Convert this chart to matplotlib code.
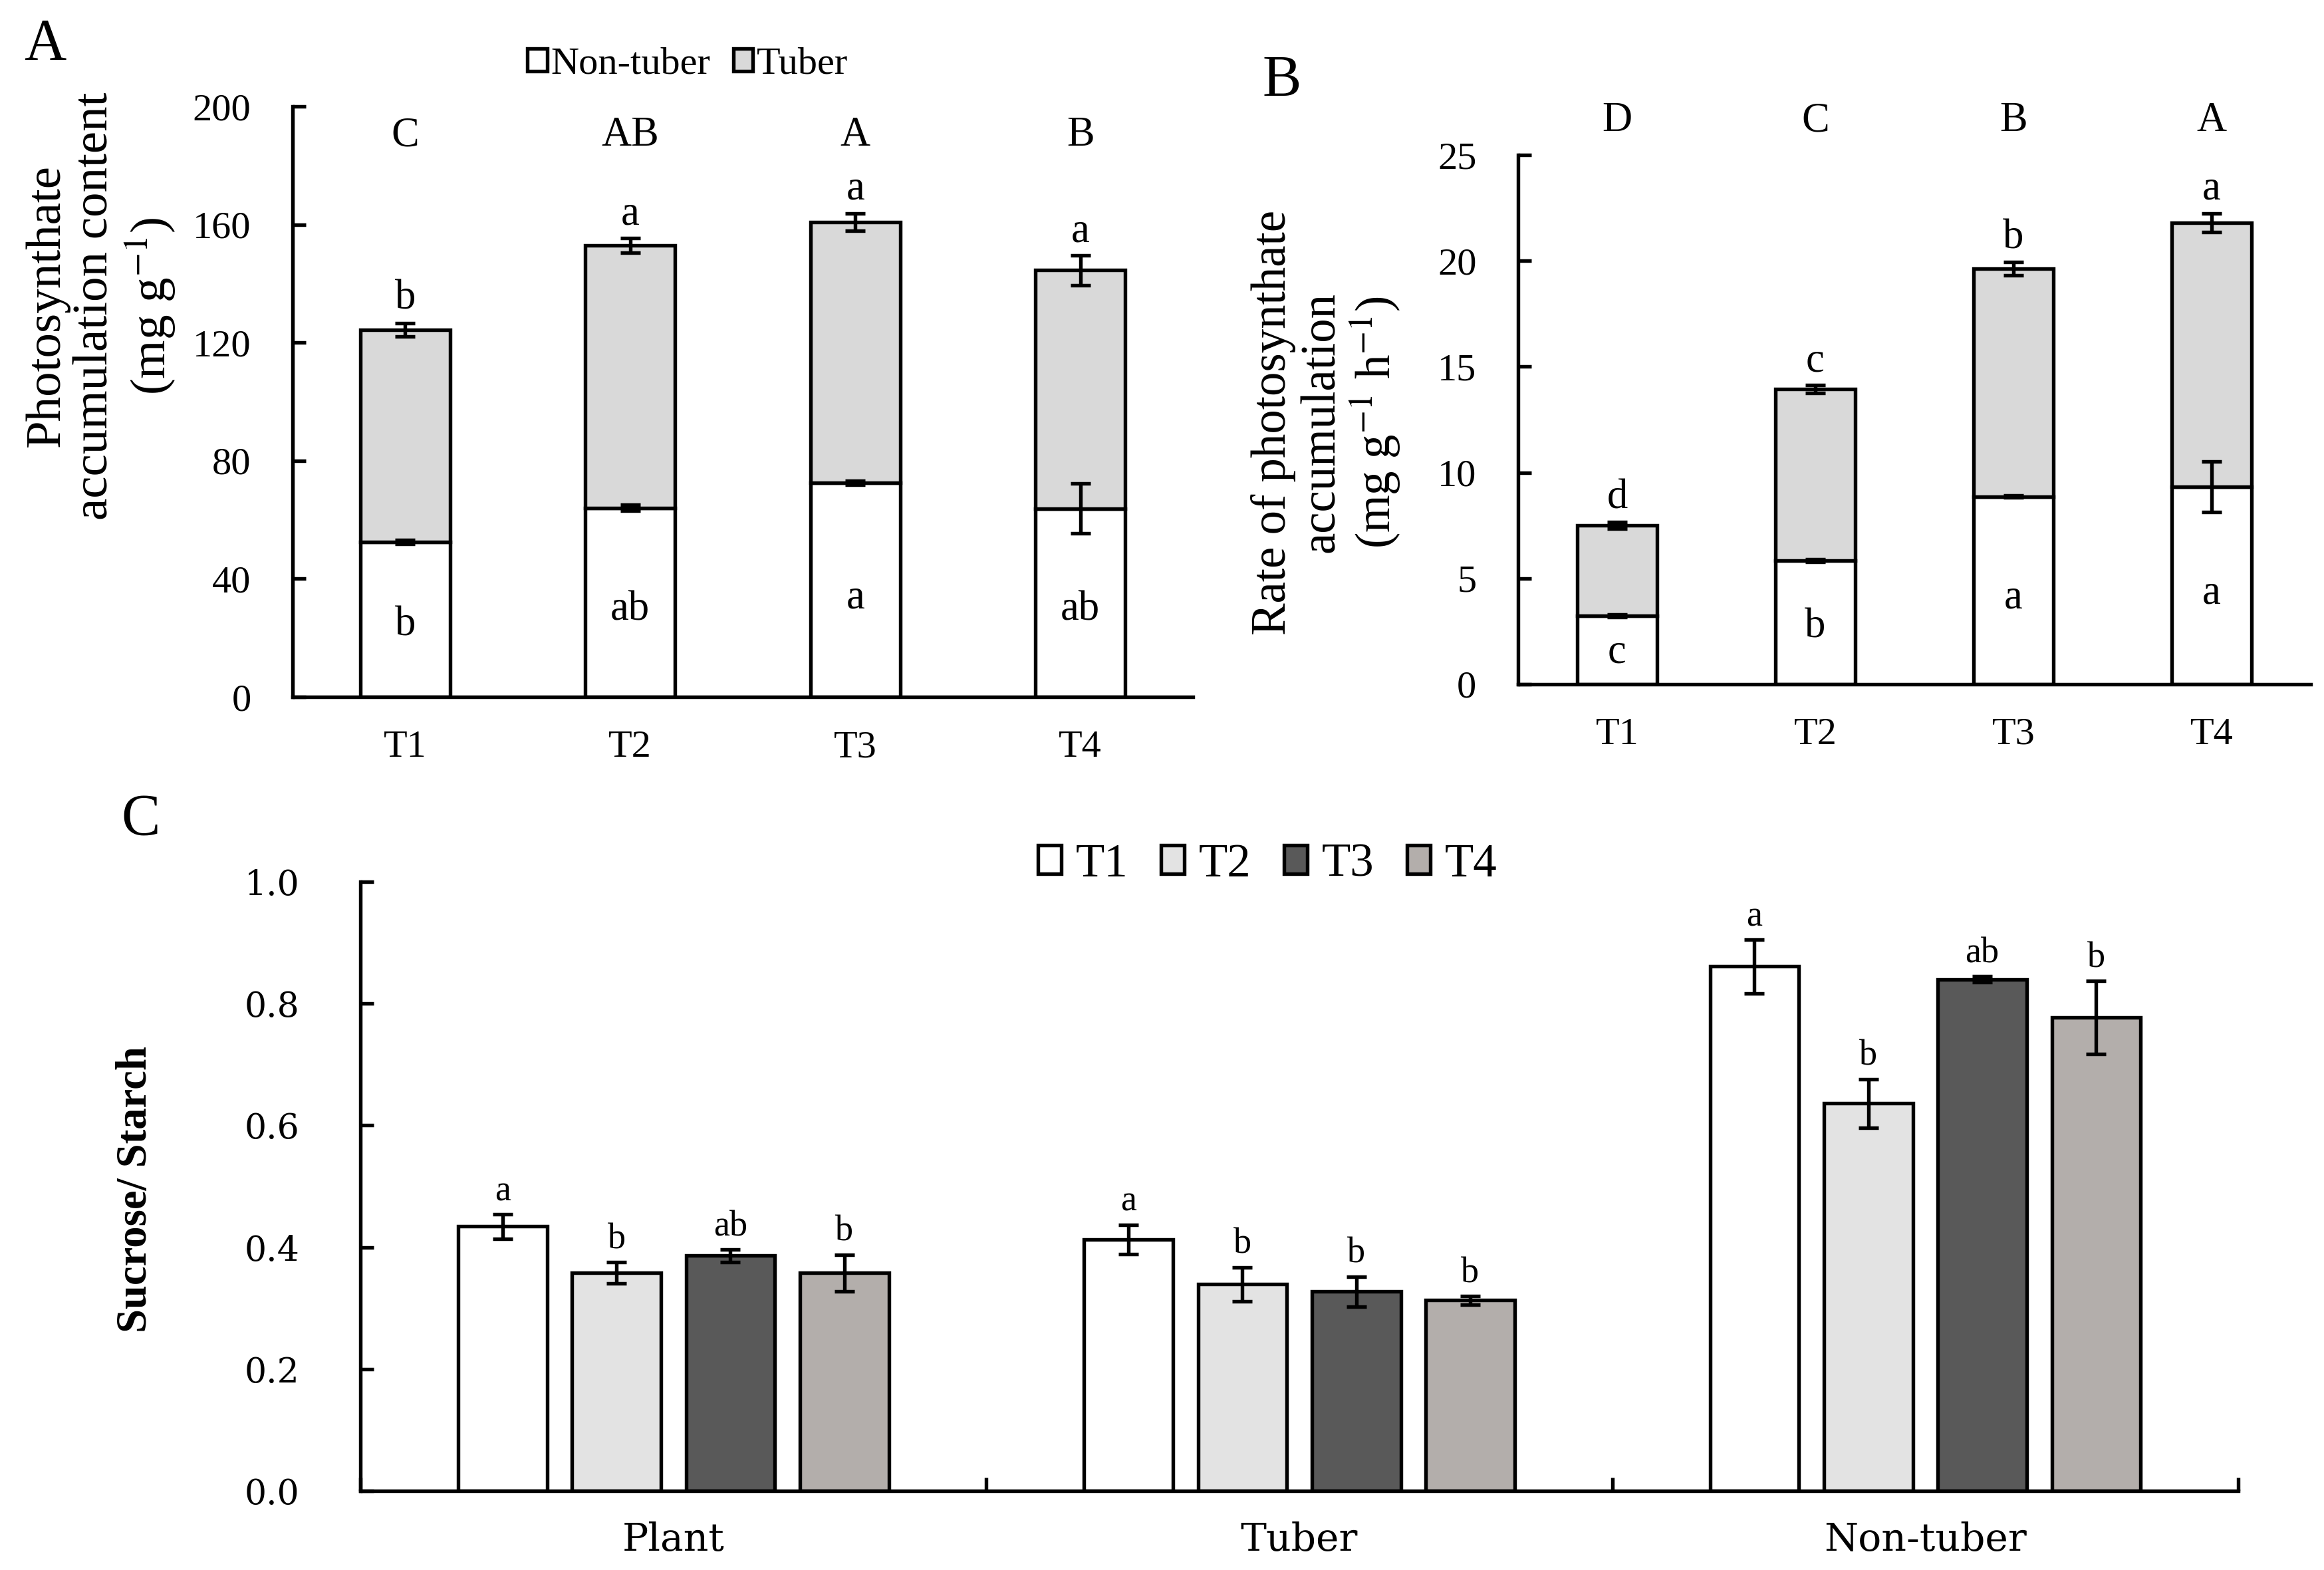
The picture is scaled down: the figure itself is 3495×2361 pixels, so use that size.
import numpy as np
import matplotlib.pyplot as plt
from matplotlib.patches import Patch

plt.rcParams['font.family'] = ['Liberation Serif', 'DejaVu Serif']
plt.rcParams['mathtext.fontset'] = 'stix'

treatments = ['T1', 'T2', 'T3', 'T4']

# A: photosynthate accumulation content (mg g-1)
a_nontuber = [52.5, 64.0, 72.5, 63.8]
a_nontuber_err = [0.6, 1.0, 0.6, 8.4]
a_total = [124.4, 152.9, 160.8, 144.5]
a_total_err = [2.3, 2.5, 3.0, 5.0]
a_top_letters = ['C', 'AB', 'A', 'B']
a_total_letters = ['b', 'a', 'a', 'a']
a_nontuber_letters = ['b', 'ab', 'a', 'ab']

# B: rate of photosynthate accumulation (mg g-1 h-1)
b_nontuber = [3.23, 5.83, 8.87, 9.33]
b_nontuber_err = [0.06, 0.06, 0.06, 1.2]
b_total = [7.51, 13.94, 19.63, 21.8]
b_total_err = [0.15, 0.18, 0.3, 0.45]
b_top_letters = ['D', 'C', 'B', 'A']
b_total_letters = ['d', 'c', 'b', 'a']
b_nontuber_letters = ['c', 'b', 'a', 'a']

# C: sucrose / starch
organs = ['Plant', 'Tuber', 'Non-tuber']
c_values = {
    'T1': [0.434, 0.413, 0.861],
    'T2': [0.358, 0.339, 0.636],
    'T3': [0.386, 0.327, 0.840],
    'T4': [0.358, 0.313, 0.777],
}
c_errors = {
    'T1': [0.020, 0.024, 0.044],
    'T2': [0.017, 0.028, 0.040],
    'T3': [0.010, 0.025, 0.005],
    'T4': [0.030, 0.007, 0.060],
}
c_letters = {
    'T1': ['a', 'a', 'a'],
    'T2': ['b', 'b', 'b'],
    'T3': ['ab', 'b', 'ab'],
    'T4': ['b', 'b', 'b'],
}
c_colors = ['white', '#e3e3e3', '#595959', '#b3aeab']

LW = 1.3
tuber_color = '#d9d9d9'
err_kw = dict(fmt='none', ecolor='black', elinewidth=LW, capsize=3.5, capthick=LW, zorder=4)

fig = plt.figure(figsize=(11.65, 7.87), dpi=300)


def style_axes(ax):
    for s in ['top', 'right']:
        ax.spines[s].set_visible(False)
    for s in ['left', 'bottom']:
        ax.spines[s].set_linewidth(LW)
    ax.tick_params(axis='y', direction='in', length=4.8, width=LW)
    ax.tick_params(axis='x', length=0)


def stacked_panel(ax, nontuber, nontuber_err, total, total_err,
                  top_letters, total_letters, nontuber_letters, ymax, ystep, top_y):
    x = np.arange(len(treatments))
    nontuber = np.array(nontuber)
    total = np.array(total)
    tuber = total - nontuber
    ax.bar(x, nontuber, 0.4, color='white', edgecolor='black', linewidth=LW, zorder=2)
    ax.bar(x, tuber, 0.4, bottom=nontuber, color=tuber_color, edgecolor='black',
           linewidth=LW, zorder=2)
    ax.errorbar(x, nontuber, yerr=nontuber_err, **err_kw)
    ax.errorbar(x, total, yerr=total_err, **err_kw)
    for i in range(len(x)):
        ax.annotate(total_letters[i], xy=(x[i], total[i] + total_err[i]),
                    xytext=(0, 5), textcoords='offset points',
                    ha='center', va='baseline', fontsize=15)
        ax.text(x[i], nontuber[i] * 0.46, nontuber_letters[i],
                ha='center', va='center', fontsize=15)
        ax.text(x[i], top_y, top_letters[i], ha='center', va='center',
                fontsize=15, transform=ax.get_xaxis_transform(), clip_on=False)
    ax.set_xlim(-0.5, len(x) - 0.5)
    ax.set_ylim(0, ymax)
    ax.set_yticks(np.arange(0, ymax + 1e-9, ystep))
    ax.set_xticks(x)
    ax.set_xticklabels(treatments)
    style_axes(ax)
    ax.tick_params(axis='y', labelsize=14, pad=15)
    ax.tick_params(axis='x', labelsize=14, pad=12)


# panel A
axA = fig.add_axes([0.1259, 0.5561, 0.3874, 0.3761])
stacked_panel(axA, a_nontuber, a_nontuber_err, a_total, a_total_err,
              a_top_letters, a_total_letters, a_nontuber_letters, 200, 40, 0.95)
fig.text(152 / 3495, 1 - 460 / 2361,
         'Photosynthate\naccumulation content\n(mg g$^{-1}$)',
         rotation=90, ha='center', va='center', multialignment='center',
         fontsize=18, linespacing=1.1)
fig.legend(handles=[Patch(facecolor='white', edgecolor='black', linewidth=LW, label='Non-tuber'),
                    Patch(facecolor=tuber_color, edgecolor='black', linewidth=LW, label='Tuber')],
           loc='center', bbox_to_anchor=(0.296, 0.959), ncol=2, frameon=False,
           fontsize=14, handlelength=0.5, handleheight=0.5, handletextpad=0.1,
           columnspacing=0.6)

# panel B
axB = fig.add_axes([0.6532, 0.5642, 0.3411, 0.3371])
stacked_panel(axB, b_nontuber, b_nontuber_err, b_total, b_total_err,
              b_top_letters, b_total_letters, b_nontuber_letters, 25, 5, 1.064)
fig.text(1995 / 3495, 1 - 635 / 2361,
         'Rate of photosynthate\naccumulation\n(mg g$^{-1}$ h$^{-1}$)',
         rotation=90, ha='center', va='center', multialignment='center',
         fontsize=17.5, linespacing=1.1)

# panel C
axC = fig.add_axes([0.1551, 0.0504, 0.808, 0.388])
xg = np.arange(len(organs))
bw = 0.142
step = 0.182
for k, t in enumerate(treatments):
    xs = xg + (k - 1.5) * step
    vals = np.array(c_values[t])
    errs = np.array(c_errors[t])
    axC.bar(xs, vals, bw, color=c_colors[k], edgecolor='black', linewidth=LW,
            zorder=2, label=t)
    axC.errorbar(xs, vals, yerr=errs, **err_kw)
    for i in range(len(xg)):
        axC.annotate(c_letters[t][i], xy=(xs[i], vals[i] + errs[i]),
                     xytext=(0, 5), textcoords='offset points',
                     ha='center', va='baseline', fontsize=13)
axC.set_xlim(-0.5, len(organs) - 0.5)
axC.set_ylim(0, 1.0)
axC.set_yticks(np.arange(0, 1.01, 0.2))
axC.set_yticklabels(['%.1f' % v for v in np.arange(0, 1.01, 0.2)], family='DejaVu Serif')
axC.set_xticks(xg)
axC.set_xticklabels(organs, family='DejaVu Serif')
axC.set_xticks(np.arange(-0.5, len(organs), 1.0), minor=True)
style_axes(axC)
axC.tick_params(axis='y', labelsize=12.5, pad=22)
axC.tick_params(axis='x', which='major', labelsize=14, pad=11)
axC.tick_params(axis='x', which='minor', direction='in', length=4.8, width=LW)
fig.text(204 / 3495, 1 - 1789 / 2361, 'Sucrose/ Starch', rotation=90,
         ha='center', va='center', fontsize=15.5, fontweight='bold')
axC.legend(loc='center', bbox_to_anchor=(1906 / 3495, 1 - 1300 / 2361),
           bbox_transform=fig.transFigure, ncol=4, frameon=False, fontsize=17,
           handlelength=0.5, handleheight=0.55, handletextpad=0.3, columnspacing=0.7)

# panel letters
fig.text(68 / 3495, 1 - 67 / 2361, 'A', fontsize=21, ha='center', va='center')
fig.text(1928 / 3495, 1 - 123 / 2361, 'B', fontsize=21, ha='center', va='center')
fig.text(212 / 3495, 1 - 1233 / 2361, 'C', fontsize=21, ha='center', va='center')

fig.savefig('out.png', dpi=300)
